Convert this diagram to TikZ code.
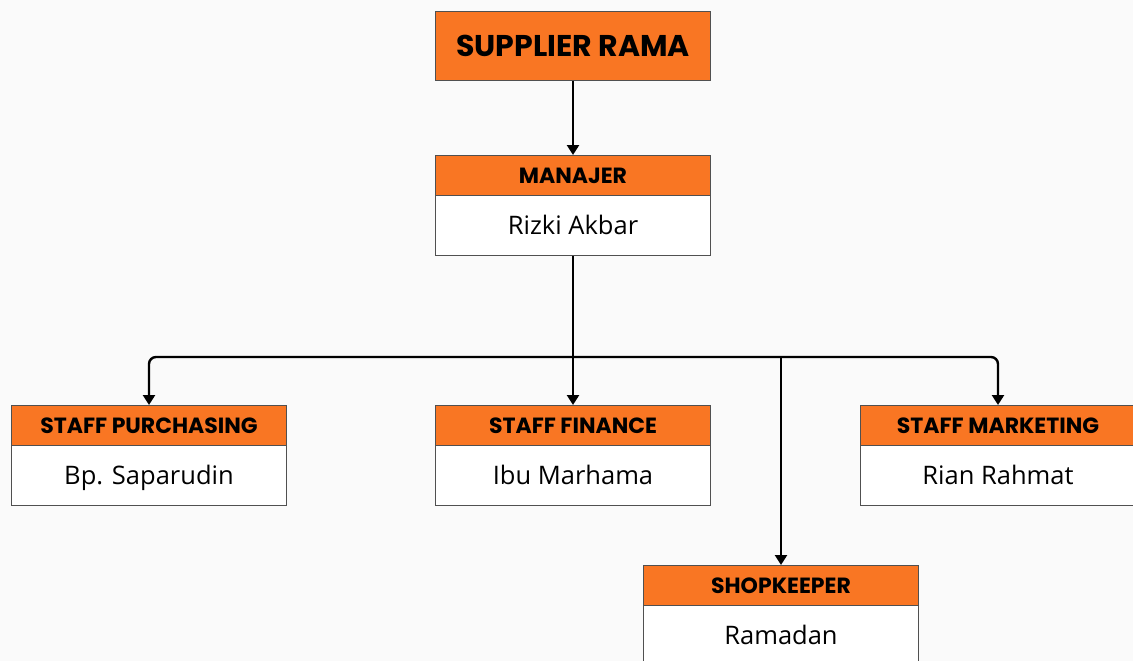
\documentclass[tikz,border=0pt]{standalone}
\usepackage{fontspec}
\setmainfont{Poppins}
\newfontfamily\namefont{Open Sans}
\usetikzlibrary{arrows.meta}
\definecolor{orng}{HTML}{F97623}
\definecolor{bord}{HTML}{505050}
\definecolor{bg}{HTML}{FAFAFA}
\tikzset{
  hdr/.style={draw=bord, line width=1pt, fill=orng, anchor=north west, minimum width=275pt, minimum height=40pt, inner sep=0pt, text height=15.4pt, text depth=0pt, font=\fontsize{22}{22}\selectfont\bfseries},
  bodybox/.style={draw=bord, line width=1pt, fill=white, anchor=north west, minimum width=275pt, minimum height=60pt, inner sep=0pt, text height=18.2pt, text depth=0pt, font=\namefont\fontsize{25.5}{25.5}\selectfont},
  conn/.style={line width=2.4pt, -{Triangle[length=10pt,width=12pt]}, rounded corners=7pt}
}
\begin{document}
\begin{tikzpicture}[x=1pt,y=-1pt]
\useasboundingbox (0,0) rectangle (1133,661);
\clip (0,0) rectangle (1133,661);
\fill[bg] (0,0) rectangle (1133,661);
% nodes
\node[hdr, minimum height=69pt, text height=21pt, font=\fontsize{30}{30}\selectfont\bfseries] (top) at (435,11) {SUPPLIER RAMA};
\node[hdr] (manh) at (435,155) {MANAJER};
\node[bodybox] (manb) at (435,195) {Rizki Akbar};
\node[hdr] (purh) at (11,405) {STAFF PURCHASING};
\node[bodybox] (purb) at (11,445) {Bp. Saparudin};
\node[hdr] (finh) at (435,405) {STAFF FINANCE};
\node[bodybox] (finb) at (435,445) {Ibu Marhama};
\node[hdr] (markh) at (860,405) {STAFF MARKETING};
\node[bodybox] (markb) at (860,445) {Rian Rahmat};
\node[hdr] (shoph) at (643,565) {SHOPKEEPER};
\node[bodybox] (shopb) at (643,605) {Ramadan};
% connectors
\coordinate (bus) at (572,357);
\draw[conn] (top.south) -- (manh.north);
\draw[conn] (manb.south) -- (finh.north);
\draw[conn] (bus) -| (purh.north);
\draw[conn] (bus) -| (markh.north);
\draw[conn] (shoph.north |- bus) -- (shoph.north);
\end{tikzpicture}
\end{document}
